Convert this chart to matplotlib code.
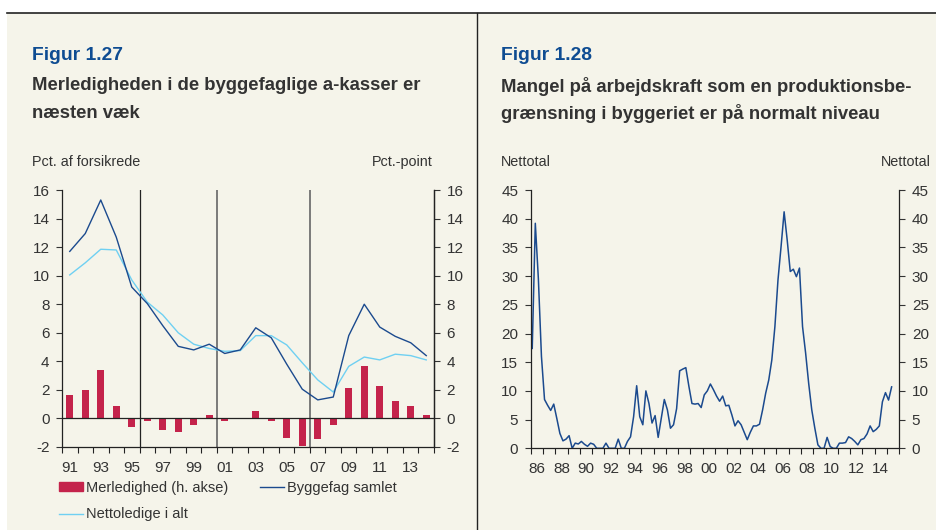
import numpy as np
import pandas as pd
import matplotlib
matplotlib.use("Agg")
import matplotlib.pyplot as plt
from matplotlib.lines import Line2D
from matplotlib.patches import Rectangle

plt.rcParams['font.family'] = ['Liberation Sans', 'DejaVu Sans']
plt.rcParams['axes.unicode_minus'] = False

# Figur 1.27 - annual data 1991-2014
years = list(range(1991, 2015))
merledighed = [1.65, 2.0, 3.4, 0.9, -0.6, -0.2, -0.8, -0.95, -0.45, 0.25, -0.2, 0.02,
               0.5, -0.15, -1.4, -1.95, -1.45, -0.45, 2.15, 3.65, 2.25, 1.25, 0.9, 0.25]
byggefag = [11.7, 12.95, 15.3, 12.7, 9.2, 8.05, 6.5, 5.05, 4.8, 5.2, 4.55, 4.8,
            6.35, 5.65, 3.8, 2.05, 1.3, 1.5, 5.8, 8.0, 6.4, 5.75, 5.3, 4.4]
nettoledige = [10.05, 10.9, 11.85, 11.8, 9.7, 8.15, 7.25, 6.0, 5.2, 4.9, 4.7, 4.75,
               5.8, 5.8, 5.15, 3.9, 2.7, 1.85, 3.65, 4.3, 4.1, 4.5, 4.4, 4.1]
break_years = [1995.5, 2000.5, 2006.5]

# Figur 1.28 - quarterly data from 1986Q1
mangel = [17.4, 39.2, 29.5, 16.0, 8.5, 7.5, 6.6, 7.7, 5.2, 2.6,
          1.3, 1.6, 2.2, 0.0, 0.9, 0.75, 1.2, 0.7, 0.35, 0.9,
          0.7, 0.0, 0.0, 0.0, 0.9, 0.0, 0.0, 0.0, 1.6, 0.0,
          0.0, 1.2, 2.0, 5.5, 10.9, 5.5, 4.1, 10.0, 7.8, 4.4,
          5.7, 1.9, 5.2, 8.5, 6.7, 3.5, 4.1, 6.9, 13.5, 13.8,
          14.05, 10.8, 7.8, 7.7, 7.8, 7.1, 9.3, 10.0, 11.2, 10.2,
          9.1, 8.2, 9.1, 7.4, 7.5, 5.8, 3.9, 4.8, 4.1, 2.8,
          1.5, 2.8, 3.9, 3.9, 4.2, 6.7, 9.6, 11.9, 15.4, 21.2,
          29.3, 35.1, 41.2, 36.3, 30.8, 31.2, 29.9, 31.4, 21.2, 16.6,
          11.3, 6.7, 3.5, 0.6, 0.0, 0.0, 1.9, 0.3, 0.0, 0.0,
          0.9, 0.9, 1.0, 2.0, 1.7, 1.2, 0.6, 1.5, 1.7, 2.5,
          3.9, 2.9, 3.3, 3.9, 8.1, 9.7, 8.4, 10.7]
quarters = pd.period_range('1986Q1', periods=len(mangel), freq='Q')

cream = '#F5F4EA'
dark_blue = '#1B4A8E'
light_blue = '#6FD0F2'
bar_red = '#C4234B'
title_blue = '#0E4C92'
text_col = '#333333'

W, H = 936, 530
fig = plt.figure(figsize=(W / 100, H / 100), dpi=100)
fig.patch.set_facecolor('white')

def fx(px):
    return px / W

def fy(py):
    return 1 - py / H

fig.patches.append(Rectangle((fx(7), 0), 1 - fx(7), fy(13), transform=fig.transFigure,
                             facecolor=cream, edgecolor='none', zorder=-10))
fig.lines.append(Line2D([fx(7), 1], [fy(13), fy(13)], transform=fig.transFigure, color='#222222', lw=1.2))
fig.lines.append(Line2D([fx(477), fx(477)], [0, fy(13)], transform=fig.transFigure, color='#222222', lw=1.0))

# titles
for x0, fig_no, lines in [(32, 'Figur 1.27', ['Merledigheden i de byggefaglige a-kasser er', 'næsten væk']),
                          (501, 'Figur 1.28', ['Mangel på arbejdskraft som en produktionsbe-',
                                               'grænsning i byggeriet er på normalt niveau'])]:
    fig.text(fx(x0), fy(55), fig_no, color=title_blue, fontsize=13.9, fontweight='bold', va='center')
    fig.text(fx(x0), fy(86), lines[0], color=text_col, fontsize=13.3, fontweight='bold', va='center')
    fig.text(fx(x0), fy(113), lines[1], color=text_col, fontsize=13.3, fontweight='bold', va='center')

fig.text(fx(32), fy(162), 'Pct. af forsikrede', color=text_col, fontsize=10.4, va='center')
fig.text(fx(433), fy(162), 'Pct.-point', color=text_col, fontsize=10.4, va='center', ha='right')
fig.text(fx(501), fy(162), 'Nettotal', color=text_col, fontsize=10.4, va='center')
fig.text(fx(931), fy(162), 'Nettotal', color=text_col, fontsize=10.4, va='center', ha='right')

def style_axis(ax):
    ax.set_facecolor('none')
    ax.spines['top'].set_visible(False)
    for s in ['left', 'right', 'bottom']:
        ax.spines[s].set_color('#222222')
        ax.spines[s].set_linewidth(0.9)
    ax.tick_params(colors=text_col, labelsize=11, width=0.8, length=4, direction='out')

# ---- left chart ----
ax1 = fig.add_axes([fx(62), fy(447), fx(434 - 62), (447 - 190) / H])
style_axis(ax1)
x = np.arange(len(years))
ax1.plot(x, byggefag, color=dark_blue, lw=1.0, zorder=4)
ax1.plot(x, nettoledige, color=light_blue, lw=1.0, zorder=3)
ax1.set_xlim(-0.5, len(years) - 0.5)
ax1.set_ylim(-2, 16)
ax1.set_yticks(range(-2, 17, 2))
ax1.set_xticks(x[::2])
ax1.set_xticklabels([str(y)[2:] for y in years[::2]])
ax1.set_xticks(np.arange(-0.5, len(years), 1), minor=True)
ax1.tick_params(axis='x', which='major', length=0, pad=10)
ax1.tick_params(axis='x', which='minor', length=4, width=0.8, color='#222222')
ax1.tick_params(axis='y', pad=5)
ax1.axhline(0, color='#222222', lw=0.9, zorder=2)
for i, by in enumerate(break_years):
    xb = years.index(int(by)) + 0.5
    ax1.axvline(xb, color='#222222' if i == 0 else '#666666', lw=0.9 if i == 0 else 1.2, zorder=1)

ax1r = ax1.twinx()
style_axis(ax1r)
ax1r.spines['left'].set_visible(False)
ax1r.spines['bottom'].set_visible(False)
ax1r.bar(x, merledighed, width=0.43, color=bar_red, zorder=2)
ax1r.set_ylim(-2, 16)
ax1r.set_yticks(range(-2, 17, 2))
ax1r.tick_params(axis='y', pad=5)
ax1.set_zorder(ax1r.get_zorder() + 1)

handles = [Rectangle((0, 0), 1, 1, color=bar_red),
           Line2D([], [], color=light_blue, lw=1.0),
           Line2D([], [], color=dark_blue, lw=1.0)]
labels = ['Merledighed (h. akse)', 'Nettoledige i alt', 'Byggefag samlet']
fig.legend(handles, labels, loc='upper left', bbox_to_anchor=(fx(59), fy(481)), ncol=2,
           frameon=False, fontsize=10.5, handlelength=1.65, handleheight=0.55, handletextpad=0.2,
           columnspacing=2.2, labelspacing=0.85, borderpad=0, borderaxespad=0, labelcolor=text_col)

# ---- right chart ----
ax2 = fig.add_axes([fx(530.7), fy(448.3), fx(899.3 - 530.7), (448.3 - 190) / H])
style_axis(ax2)
xq = np.asarray(quarters.year + (quarters.quarter - 1) / 4 + 0.125, dtype=float)
ax2.plot(xq, mangel, color=dark_blue, lw=1.1)
ax2.set_xlim(1986, 2016)
ax2.set_ylim(0, 45)
ax2.set_yticks(range(0, 46, 5))
label_years = list(range(1986, 2015, 2))
ax2.set_xticks([y + 0.5 for y in label_years])
ax2.set_xticklabels([str(y)[2:] for y in label_years])
ax2.set_xticks(range(1986, 2017), minor=True)
ax2.tick_params(axis='x', which='major', length=0, pad=10)
ax2.tick_params(axis='x', which='minor', length=4, width=0.8, color='#222222')
ax2.tick_params(axis='y', left=True, right=True, labelleft=True, labelright=True, pad=5)

fig.savefig('out.png', dpi=100, facecolor=fig.get_facecolor())
